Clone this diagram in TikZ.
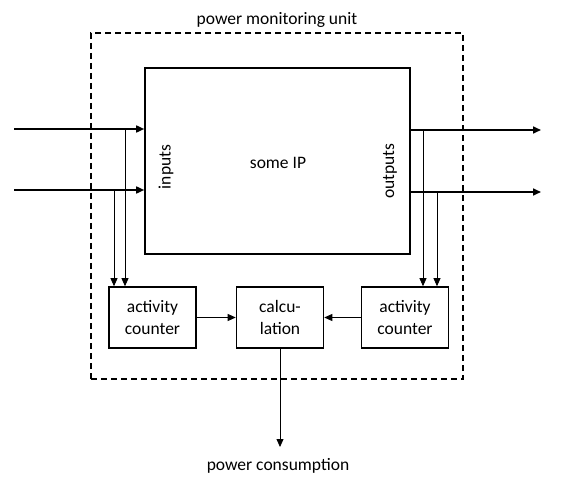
\documentclass[tikz,border=0pt]{standalone}
\usepackage{fontspec}
\setmainfont{Carlito}
\usepackage{tikz}
\usetikzlibrary{arrows.meta, positioning}

\begin{document}
\begin{tikzpicture}[
    x=1pt, y=-1pt,
    font=\fontsize{17.5pt}{22pt}\selectfont,
    block/.style={rectangle, draw, line width=1.6pt, minimum width=87pt, minimum height=61pt, align=center, inner sep=0pt},
    bigarrow/.style={-{Triangle[length=8pt, width=7pt]}, line width=1.6pt},
    thinarrow/.style={-{Triangle[length=8pt, width=7pt]}, line width=0.8pt},
]
    \useasboundingbox (0,0) rectangle (563,487);

    % outer unit
    \node[draw, dashed, line width=1.6pt, dash pattern=on 6pt off 4pt, minimum width=372pt, minimum height=346pt, inner sep=0pt] (pmu) at (277,206) {};
    \node[above=4pt of pmu.north, inner sep=0pt] (pmulabel) {power monitoring unit};

    % the IP
    \node[block, minimum width=265pt, minimum height=186pt] (ip) at (277.5,161) {};
    \node[inner sep=0pt] (iplabel) at (278,163) {some IP};
    \node[rotate=90, inner sep=0pt] (inlabel) at (166,167) {inputs};
    \node[rotate=90, inner sep=0pt] (outlabel) at (390,171) {outputs};

    % counters and calculation
    \node[block] (cntL) at (152.5,317.5) {activity\\counter};
    \node[block] (calc) at (280,317.5) {calcu-\\lation};
    \node[block] (cntR) at (405,317.5) {activity\\counter};

    % signals in and out
    \coordinate (in1) at (14,129);
    \coordinate (in2) at (14,190);
    \coordinate (out1) at (541,130);
    \coordinate (out2) at (541,192);
    \draw[bigarrow] (in1) -- (ip.west |- in1);
    \draw[bigarrow] (in2) -- (ip.west |- in2);
    \draw[bigarrow] (ip.east |- out1) -- (out1);
    \draw[bigarrow] (ip.east |- out2) -- (out2);

    % taps to the counters
    \coordinate (tapI1) at (125,129);
    \coordinate (tapI2) at (114,190);
    \coordinate (tapO1) at (423,130);
    \coordinate (tapO2) at (437,192);
    \draw[thinarrow] (tapI1) -- (tapI1 |- cntL.north);
    \draw[thinarrow] (tapI2) -- (tapI2 |- cntL.north);
    \draw[thinarrow] (tapO1) -- (tapO1 |- cntR.north);
    \draw[thinarrow] (tapO2) -- (tapO2 |- cntR.north);

    \draw[thinarrow] (cntL) -- (calc);
    \draw[thinarrow] (cntR) -- (calc);

    % result
    \coordinate (pc) at (280,447);
    \draw[thinarrow] (calc.south) -- (pc);
    \node[inner sep=0pt] (pclabel) at (278,466) {power consumption};
\end{tikzpicture}
\end{document}
